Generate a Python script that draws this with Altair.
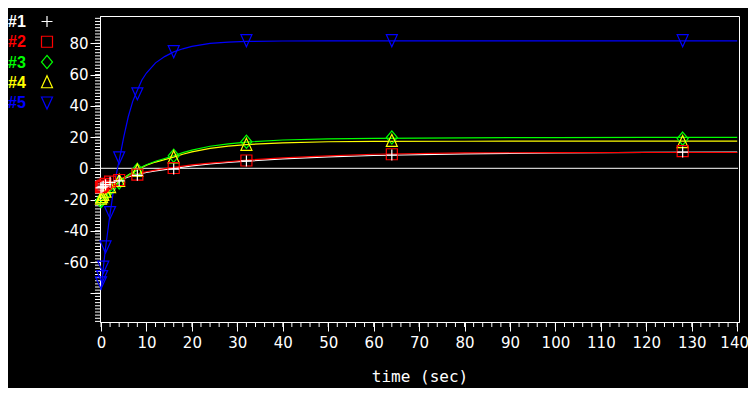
import altair as alt
import pandas as pd

# ---------------- data ----------------
series_names = ["#1", "#2", "#3", "#4", "#5"]
series_colors = ["#ffffff", "#ff0000", "#00ff00", "#ffff00", "#0000ff"]
# marker shapes (unit SVG paths): plus, square, diamond, triangle up, triangle down
series_shapes = [
    "M-1,0L1,0M0,-1L0,1",
    "M-1,-1L1,-1L1,1L-1,1Z",
    "M0,-1.2L1,0L0,1.2L-1,0Z",
    "M0,-1.2L1,1L-1,1Z",
    "M-1,-1L1,-1L0,1.2Z",
]

t_pts = [0, 0.25, 0.5, 1, 2, 4, 8, 16, 32, 64, 128]
y1_pts = [-12.5, -12, -11.5, -10.5, -9, -8, -4.5, -0.5, 4.7, 8.5, 10.4]
y2_pts = [-12, -11.5, -11, -10, -8.5, -7.5, -4, 0.2, 5, 9, 11]
y3_pts = [-21, -20, -18.5, -16.5, -13, -9, -1, 8, 17, 19.7, 19]
y4_pts = [-19.5, -18.5, -17, -15, -12, -8, -1.5, 7, 15, 17.5, 16.8]
y5_pts = [-73, -69, -63, -50, -28, 7, 48, 75, 82, 82, 82]

t_fit = [0, 0.5, 1, 1.5, 2, 3, 4, 5, 6, 7, 8, 9, 10, 12, 14, 16, 18, 20,
         24, 28, 32, 40, 50, 60, 80, 100, 120, 140]
y1_fit = [-12.5, -11.8, -11.1, -10.5, -9.9, -8.7, -7.6, -6.6, -5.6, -4.8, -4, -3.3,
          -2.7, -1.7, -0.8, 0, 0.8, 1.5, 2.8, 3.8, 4.6, 6, 7.3, 8.2, 9.2, 9.8, 10.2, 10.4]
y2_fit = [-12, -11.3, -10.6, -10, -9.4, -8.2, -7.1, -6, -5.1, -4.3, -3.6, -2.8,
          -2.2, -1.2, -0.2, 0.6, 1.4, 2.2, 3.3, 4.2, 5.2, 6.7, 8, 9, 9.9, 10, 10.1, 10.1]
y3_fit = [-21, -19.5, -18, -16.3, -14.8, -11.8, -9, -6.6, -4.5, -2.6, -1, 0.8,
          2.3, 4.5, 6.3, 8, 10, 11.6, 14.1, 15.6, 16.8, 18.1, 18.8, 19.2, 19.5, 19.7, 19.8, 19.8]
y4_fit = [-19.5, -18, -16.6, -15.2, -13.8, -11, -8.5, -6.3, -4.3, -2.6, -1.1, 0.6,
          2, 4, 5.6, 7.2, 9, 10.5, 12.8, 14.2, 15.2, 16.3, 17, 17.2, 17.3, 17.4, 17.4, 17.4]
y5_fit = [-78, -64, -51, -40, -29, -9, 5, 20, 33, 43, 50, 56.5,
          61, 67.5, 71.5, 74.5, 76.5, 78, 80, 80.8, 81.2, 81.5, 81.6, 81.6, 81.6, 81.6, 81.6, 81.6]

x_major = list(range(0, 141, 10))
x_minor = list(range(0, 141, 2))
y_major = list(range(-80, 81, 20))
y_minor = list(range(-98, 97, 2))

# ---------------- tables ----------------
pts_list = [y1_pts, y2_pts, y3_pts, y4_pts, y5_pts]
fit_list = [y1_fit, y2_fit, y3_fit, y4_fit, y5_fit]
draw_order = [2, 3, 1, 0, 4]  # green, yellow, red, white, blue on top

pts_df = pd.concat(
    [pd.DataFrame({"t": t_pts, "v": pts_list[i], "s": series_names[i], "o": k})
     for k, i in enumerate(draw_order)], ignore_index=True)
fit_df = pd.concat(
    [pd.DataFrame({"t": t_fit, "v": fit_list[i], "s": series_names[i]})
     for i in [0, 1, 3, 2, 4]], ignore_index=True)
leg_df = pd.DataFrame({"s": series_names, "row": list(range(5))})

W, H = 639, 306
xs = alt.Scale(domain=[-0.22, 140.4], nice=False, zero=False)
ys = alt.Scale(domain=[-98.4, 97.5], nice=False, zero=False)

xaxis = alt.Axis(values=x_major, tickSize=9, tickColor="white", domainColor="white",
                 labelColor="white", labelFont="DejaVu Sans", labelFontSize=15,
                 labelPadding=4, labelFlush=False, labelOverlap=False, grid=False,
                 labelOffset={"condition": {"test": "datum.value == 140", "value": -3},
                              "value": 0},
                 title="time (sec)", titleColor="white", titleFont="DejaVu Sans Mono",
                 titleFontSize=16, titleFontWeight="normal", titleY=59,
                 titleBaseline="alphabetic")
yaxis = alt.Axis(values=y_major, tickSize=10, tickColor="white", domainColor="white",
                 labelColor="white", labelFont="DejaVu Sans", labelFontSize=15,
                 labelPadding=2, labelFlush=False, labelOverlap=False, grid=False,
                 labelExpr="datum.value == -80 ? '' : '' + datum.value", title=None)

X = lambda f: alt.X(f, scale=xs, axis=xaxis)
Y = lambda f: alt.Y(f, scale=ys, axis=yaxis)
color = alt.Color("s:N", scale=alt.Scale(domain=series_names, range=series_colors), legend=None)
shape = alt.Shape("s:N", scale=alt.Scale(domain=series_names, range=series_shapes), legend=None)

zero = alt.Chart(pd.DataFrame({"v": [0]})).mark_rule(color="white", strokeWidth=1).encode(
    y=Y("v:Q"), x=alt.value(1), x2=alt.value(W - 1))

minor_x = alt.Chart(pd.DataFrame({"t": x_minor})).mark_rule(color="white", strokeWidth=1).encode(
    x=X("t:Q"), y=alt.value(H), y2=alt.value(H + 5))
minor_y = alt.Chart(pd.DataFrame({"v": y_minor})).mark_rule(color="white", strokeWidth=1).encode(
    y=Y("v:Q"), x=alt.value(-5), x2=alt.value(0))

lines = alt.Chart(fit_df).mark_line(strokeWidth=1.2).encode(
    x=X("t:Q"), y=Y("v:Q"), color=color, detail="s:N")

points = alt.Chart(pts_df).mark_point(filled=False, size=121, strokeWidth=1.2, opacity=1).encode(
    x=X("t:Q"), y=Y("v:Q"), color=color, shape=shape, order="o:Q")

main = alt.layer(zero, minor_x, minor_y, lines, points)

leg_y = alt.Y("row:O", scale=alt.Scale(type="point", range=[5.5, 86.5], padding=0), axis=None)
leg_text = alt.Chart(leg_df).mark_text(align="left", baseline="alphabetic", dy=5.5,
                                       font="Liberation Sans", fontSize=16,
                                       fontWeight="bold").encode(
    x=alt.value(-92), y=leg_y, text="s:N", color=color)
leg_sym = alt.Chart(leg_df).mark_point(filled=False, size=121, strokeWidth=1.2, opacity=1).encode(
    x=alt.value(-53), y=leg_y, color=color, shape=shape)
legend = alt.layer(leg_text, leg_sym)

chart = alt.layer(main, legend).resolve_scale(y="independent").properties(
    width=W, height=H,
    autosize=alt.AutoSizeParams(type="none"),
    padding={"left": 92, "top": 8, "right": 9, "bottom": 66},
    background="black",
).configure_view(stroke="white", strokeWidth=1, fill="black")

chart.save("out.html", embed_options={"renderer": "svg", "actions": False})
